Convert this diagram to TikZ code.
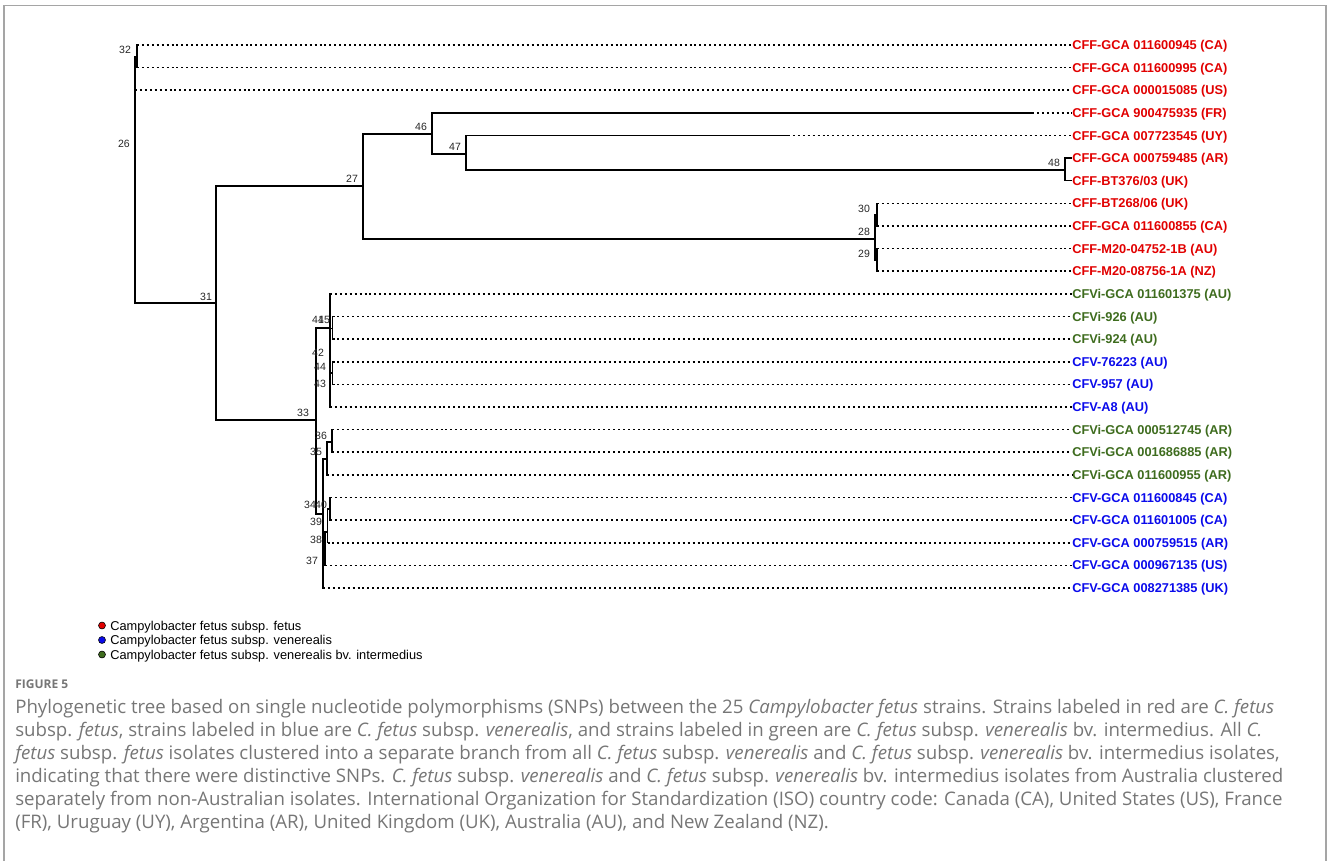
\documentclass[tikz,border=0pt]{standalone}
\usepackage{fontspec}
\setmainfont{Liberation Sans}
\newfontfamily\capfont{Open Sans}
\definecolor{cffred}{RGB}{225,0,0}
\definecolor{cfvblue}{RGB}{10,10,235}
\definecolor{cfvigreen}{RGB}{62,108,30}
\definecolor{capgray}{RGB}{118,118,118}
\definecolor{framegray}{RGB}{165,165,165}
\tikzset{
  br/.style={line width=1.1pt, black, line cap=rect},
  dl/.style={line width=1.15pt, black, dash pattern=on 1.5pt off 2.2pt},
  lab/.style={anchor=base west, inner sep=0pt, font=\bfseries\fontsize{9.6}{11}\selectfont},
  num/.style={inner sep=0pt, font=\fontsize{7.9}{9}\selectfont, text=black!85},
  legtext/.style={anchor=base west, inner sep=0pt, font=\fontsize{9.6}{11}\selectfont},
  legdot/.style={circle, draw=black, line width=0.45pt, inner sep=0pt, minimum size=5.2pt},
  capline/.style={anchor=base west, inner sep=0pt, text=capgray, font=\capfont\fontsize{14}{17}\selectfont},
}
\begin{document}
\begin{tikzpicture}[x=0.75pt,y=-0.75pt]
\useasboundingbox (0,0) rectangle (1328,861);
\draw[framegray, line width=1.1pt] (4,861) -- (4,5.5) -- (1326,5.5) -- (1326,861);

% ---- leaf labels (baseline = row + 4.5) ----
\node[lab,text=cffred] (L1) at (1072,49.5) {CFF-GCA 011600945 (CA)};
\node[lab,text=cffred] (L2) at (1072,72.1) {CFF-GCA 011600995 (CA)};
\node[lab,text=cffred] (L3) at (1072,94.75) {CFF-GCA 000015085 (US)};
\node[lab,text=cffred] (L4) at (1072,117.4) {CFF-GCA 900475935 (FR)};
\node[lab,text=cffred] (L5) at (1072,140) {CFF-GCA 007723545 (UY)};
\node[lab,text=cffred] (L6) at (1072,162.6) {CFF-GCA 000759485 (AR)};
\node[lab,text=cffred] (L7) at (1072,185.25) {CFF-BT376/03 (UK)};
\node[lab,text=cffred] (L8) at (1072,207.9) {CFF-BT268/06 (UK)};
\node[lab,text=cffred] (L9) at (1072,230.5) {CFF-GCA 011600855 (CA)};
\node[lab,text=cffred] (L10) at (1072,253.1) {CFF-M20-04752-1B (AU)};
\node[lab,text=cffred] (L11) at (1072,275.75) {CFF-M20-08756-1A (NZ)};
\node[lab,text=cfvigreen] (L12) at (1072,298.4) {CFVi-GCA 011601375 (AU)};
\node[lab,text=cfvigreen] (L13) at (1072,321) {CFVi-926 (AU)};
\node[lab,text=cfvigreen] (L14) at (1072,343.6) {CFVi-924 (AU)};
\node[lab,text=cfvblue] (L15) at (1072,366.25) {CFV-76223 (AU)};
\node[lab,text=cfvblue] (L16) at (1072,388.9) {CFV-957 (AU)};
\node[lab,text=cfvblue] (L17) at (1072,411.5) {CFV-A8 (AU)};
\node[lab,text=cfvigreen] (L18) at (1072,434.1) {CFVi-GCA 000512745 (AR)};
\node[lab,text=cfvigreen] (L19) at (1072,456.75) {CFVi-GCA 001686885 (AR)};
\node[lab,text=cfvigreen] (L20) at (1072,479.4) {CFVi-GCA 011600955 (AR)};
\node[lab,text=cfvblue] (L21) at (1072,502) {CFV-GCA 011600845 (CA)};
\node[lab,text=cfvblue] (L22) at (1072,524.6) {CFV-GCA 011601005 (CA)};
\node[lab,text=cfvblue] (L23) at (1072,547.25) {CFV-GCA 000759515 (AR)};
\node[lab,text=cfvblue] (L24) at (1072,569.9) {CFV-GCA 000967135 (US)};
\node[lab,text=cfvblue] (L25) at (1072,592.5) {CFV-GCA 008271385 (UK)};

% ---- internal nodes (x of vertical, y of attachment) ----
\coordinate (n26) at (135,180);
\coordinate (n32) at (137,57);
\coordinate (n31) at (216,303);
\coordinate (n27) at (363,186);
\coordinate (n46) at (432,134);
\coordinate (n47) at (466,154);
\coordinate (n48) at (1065,170);
\coordinate (n28) at (875,239);
\coordinate (n30) at (877,215);
\coordinate (n29) at (877,260);
\coordinate (n33) at (316,420);
\coordinate (n41) at (330,328);
\coordinate (n45) at (332.5,328.5);
\coordinate (n43) at (332.5,373);
\coordinate (n34) at (323,514);
\coordinate (n35) at (327,459);
\coordinate (n36) at (332,442);
\coordinate (n37) at (325,549);
\coordinate (n38) at (327.5,532);
\coordinate (n40) at (330,509);

% leaf start points
\coordinate (s1) at (137,45);
\coordinate (s2) at (137,67.6);
\coordinate (s3) at (135,90.25);
\coordinate (c4) at (1032,112.9);
\coordinate (c5) at (788,135.5);
\coordinate (e6) at (1071,158.1);
\coordinate (e7) at (1071,180.75);
\coordinate (s8) at (877,203.4);
\coordinate (s9) at (877,226);
\coordinate (s10) at (877,248.6);
\coordinate (s11) at (877,271.25);
\coordinate (s12) at (330,293.9);
\coordinate (s13) at (332.5,316.5);
\coordinate (s14) at (332.5,339.1);
\coordinate (s15) at (332.5,361.75);
\coordinate (s16) at (332.5,384.4);
\coordinate (s17) at (330,407);
\coordinate (s18) at (332,429.6);
\coordinate (s19) at (332,452.25);
\coordinate (s20) at (327,474.9);
\coordinate (s21) at (330,497.5);
\coordinate (s22) at (330,520.1);
\coordinate (s23) at (327.5,542.75);
\coordinate (s24) at (325,565.4);
\coordinate (s25) at (323,588);

% ---- solid branches ----
\draw[br] (n26) |- (n32);
\draw[br] (n26) |- (s3);
\draw[br] (n26) |- (n31);
\draw[br] (n32) |- (s1);
\draw[br] (n32) |- (s2);
\draw[br] (n31) |- (n27);
\draw[br] (n31) |- (n33);
\draw[br] (n27) |- (n46);
\draw[br] (n27) |- (n28);
\draw[br] (n46) |- (c4);
\draw[br] (n46) |- (n47);
\draw[br] (n47) |- (c5);
\draw[br] (n47) |- (n48);
\draw[br] (n48) |- (e6);
\draw[br] (n48) |- (e7);
\draw[br] (n28) |- (n30);
\draw[br] (n28) |- (n29);
\draw[br] (n30) |- (s8);
\draw[br] (n30) |- (s9);
\draw[br] (n29) |- (s10);
\draw[br] (n29) |- (s11);
\draw[br] (n33) |- (n41);
\draw[br] (n33) |- (n34);
\draw[br] (n41) |- (s12);
\draw[br] (n41) |- (n45);
\draw[br] (n41) |- (n43);
\draw[br] (n41) |- (s17);
\draw[br] (n45) |- (s13);
\draw[br] (n45) |- (s14);
\draw[br] (n43) |- (s15);
\draw[br] (n43) |- (s16);
\draw[br] (n34) |- (n35);
\draw[br] (n34) |- (n37);
\draw[br] (n34) |- (s25);
\draw[br] (n35) |- (n36);
\draw[br] (n35) |- (s20);
\draw[br] (n36) |- (s18);
\draw[br] (n36) |- (s19);
\draw[br] (n37) |- (n38);
\draw[br] (n37) |- (s24);
\draw[br] (n38) |- (n40);
\draw[br] (n38) |- (s23);
\draw[br] (n40) |- (s21);
\draw[br] (n40) |- (s22);

% ---- dotted leaf extensions ----
\draw[dl] (s1) -- (s1 -| L1.west);
\draw[dl] (s2) -- (s2 -| L2.west);
\draw[dl] (s3) -- (s3 -| L3.west);
\draw[dl] (c4) -- (c4 -| L4.west);
\draw[dl] (c5) -- (c5 -| L5.west);
\draw[dl] (s8) -- (s8 -| L8.west);
\draw[dl] (s9) -- (s9 -| L9.west);
\draw[dl] (s10) -- (s10 -| L10.west);
\draw[dl] (s11) -- (s11 -| L11.west);
\draw[dl] (s12) -- (s12 -| L12.west);
\draw[dl] (s13) -- (s13 -| L13.west);
\draw[dl] (s14) -- (s14 -| L14.west);
\draw[dl] (s15) -- (s15 -| L15.west);
\draw[dl] (s16) -- (s16 -| L16.west);
\draw[dl] (s17) -- (s17 -| L17.west);
\draw[dl] (s18) -- (s18 -| L18.west);
\draw[dl] (s19) -- (s19 -| L19.west);
\draw[dl] (s20) -- (s20 -| L20.west);
\draw[dl] (s21) -- (s21 -| L21.west);
\draw[dl] (s22) -- (s22 -| L22.west);
\draw[dl] (s23) -- (s23 -| L23.west);
\draw[dl] (s24) -- (s24 -| L24.west);
\draw[dl] (s25) -- (s25 -| L25.west);

% ---- node numbers ----
\node[num] (t32) at (125,50) {32};
\node[num] (t26) at (124,144) {26};
\node[num] (t31) at (206,297) {31};
\node[num] (t27) at (352,179) {27};
\node[num] (t46) at (421,127) {46};
\node[num] (t47) at (455,147) {47};
\node[num] (t48) at (1054,163) {48};
\node[num] (t30) at (864,209) {30};
\node[num] (t28) at (864,232) {28};
\node[num] (t29) at (864,254) {29};
\node[num] (t41) at (318,320) {41};
\node[num] (t45) at (324,320) {45};
\node[num] (t42) at (318,353) {42};
\node[num] (t44) at (320,367) {44};
\node[num] (t43) at (320,384) {43};
\node[num] (t33) at (303,413) {33};
\node[num] (t36) at (321,436) {36};
\node[num] (t35) at (316,452) {35};
\node[num] (t34) at (310,505) {34};
\node[num] (t40) at (321,505) {40};
\node[num] (t39) at (316,522) {39};
\node[num] (t38) at (316,540) {38};
\node[num] (t37) at (312,561) {37};

% ---- legend ----
\node[legdot, fill=cffred] (d1) at (102,625.5) {};
\node[legdot, fill=cfvblue] (d2) at (102,640) {};
\node[legdot, fill=cfvigreen] (d3) at (102,654.5) {};
\node[legtext] (g1) at (110,630) {Campylobacter fetus subsp. fetus};
\node[legtext] (g2) at (110,644.5) {Campylobacter fetus subsp. venerealis};
\node[legtext] (g3) at (110,659) {Campylobacter fetus subsp. venerealis bv. intermedius};

% ---- caption ----
\node[anchor=base west, inner sep=0pt, text=capgray, font=\capfont\bfseries\fontsize{9}{11}\selectfont] (fig) at (15,688.5) {FIGURE 5};
\node[capline] (c1) at (15,713) {Phylogenetic tree based on single nucleotide polymorphisms (SNPs) between the 25 \textit{Campylobacter fetus} strains. Strains labeled in red are \textit{C. fetus}};
\node[capline] (c2) at (15,736) {subsp. \textit{fetus}, strains labeled in blue are \textit{C. fetus} subsp. \textit{venerealis}, and strains labeled in green are \textit{C. fetus} subsp. \textit{venerealis} bv. intermedius. All \textit{C.}};
\node[capline] (c3) at (15,759) {\textit{fetus} subsp. \textit{fetus} isolates clustered into a separate branch from all \textit{C. fetus} subsp. \textit{venerealis} and \textit{C. fetus} subsp. \textit{venerealis} bv. intermedius isolates,};
\node[capline] (c4t) at (15,782) {indicating that there were distinctive SNPs. \textit{C. fetus} subsp. \textit{venerealis} and \textit{C. fetus} subsp. \textit{venerealis} bv. intermedius isolates from Australia clustered};
\node[capline] (c5t) at (15,805) {separately from non-Australian isolates. International Organization for Standardization (ISO) country code: Canada (CA), United States (US), France};
\node[capline] (c6) at (15,828) {(FR), Uruguay (UY), Argentina (AR), United Kingdom (UK), Australia (AU), and New Zealand (NZ).};
\end{tikzpicture}
\end{document}
